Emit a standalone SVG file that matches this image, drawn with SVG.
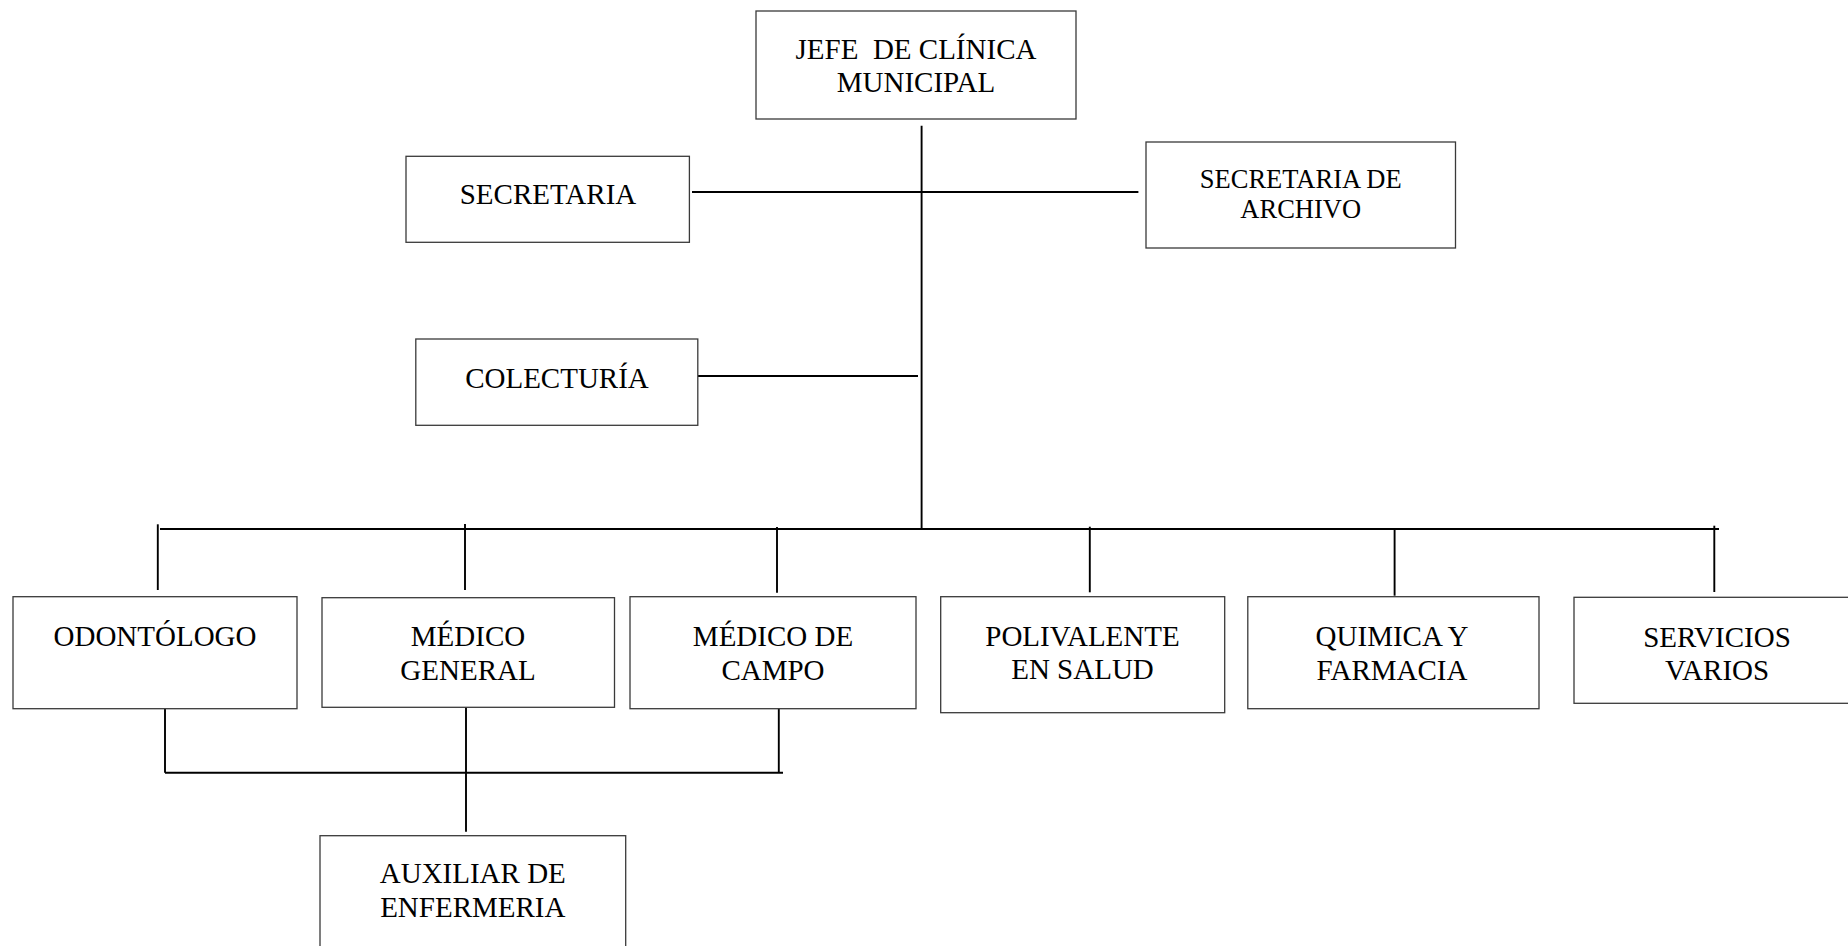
<svg xmlns="http://www.w3.org/2000/svg" width="1848" height="946" viewBox="0 0 1848 946">
<style>
.box{fill:#ffffff;stroke:#3a3a3a;stroke-width:1.3}
.t{font-family:"Liberation Serif","Times New Roman",serif;font-size:29px;fill:#000;text-anchor:middle}
.s{font-size:26.5px}
.c{stroke:#000;stroke-width:1.9;fill:none}
</style>
<rect width="1848" height="946" fill="#ffffff"/>
<g id="connectors">
<line class="c" x1="921.6" y1="125.7" x2="921.6" y2="529"/>
<line class="c" x1="692" y1="192" x2="1138.4" y2="192"/>
<line class="c" x1="698" y1="376" x2="918" y2="376"/>
<line class="c" x1="160" y1="529" x2="1719" y2="529"/>
<line class="c" x1="157.8" y1="524.3" x2="157.8" y2="590"/>
<line class="c" x1="465" y1="524" x2="465" y2="590"/>
<line class="c" x1="777" y1="527" x2="777" y2="592.7"/>
<line class="c" x1="1089.8" y1="526.7" x2="1089.8" y2="592.3"/>
<line class="c" x1="1394.6" y1="529" x2="1394.6" y2="595.7"/>
<line class="c" x1="1714.3" y1="525.7" x2="1714.3" y2="592"/>
<line class="c" x1="165" y1="708.7" x2="165" y2="772.7"/>
<line class="c" x1="778.8" y1="707" x2="778.8" y2="772.7"/>
<line class="c" x1="165" y1="772.7" x2="783" y2="772.7"/>
<line class="c" x1="466" y1="706.7" x2="466" y2="831.7"/>
</g>
<g id="jefe">
<rect class="box" x="756" y="11" width="320" height="108"/>
<text class="t" x="916" y="58.7" xml:space="preserve">JEFE  DE CLÍNICA</text>
<text class="t" x="916" y="91.7">MUNICIPAL</text>
</g>
<g id="secretaria">
<rect class="box" x="406" y="156.3" width="283.4" height="86"/>
<text class="t" x="548" y="204">SECRETARIA</text>
</g>
<g id="secretaria-archivo">
<rect class="box" x="1146" y="142" width="309.5" height="106"/>
<text class="t s" x="1300.7" y="187.7">SECRETARIA DE</text>
<text class="t s" x="1300.7" y="218.3">ARCHIVO</text>
</g>
<g id="colecturia">
<rect class="box" x="415.8" y="339" width="282" height="86.3"/>
<text class="t" x="557" y="387.7">COLECTURÍA</text>
</g>
<g id="odontologo">
<rect class="box" x="13" y="596.7" width="284" height="112"/>
<text class="t" x="155" y="646">ODONTÓLOGO</text>
</g>
<g id="medico-general">
<rect class="box" x="322" y="597.7" width="292.5" height="109.6"/>
<text class="t" x="468" y="646">MÉDICO</text>
<text class="t" x="468" y="680">GENERAL</text>
</g>
<g id="medico-campo">
<rect class="box" x="630" y="596.7" width="286" height="112"/>
<text class="t" x="773" y="646">MÉDICO DE</text>
<text class="t" x="773" y="680">CAMPO</text>
</g>
<g id="polivalente">
<rect class="box" x="940.7" y="596.7" width="284" height="116"/>
<text class="t" x="1082.5" y="645.5">POLIVALENTE</text>
<text class="t" x="1082.5" y="679">EN SALUD</text>
</g>
<g id="quimica">
<rect class="box" x="1247.8" y="596.7" width="291.2" height="112"/>
<text class="t" x="1392" y="645.5">QUIMICA Y</text>
<text class="t" x="1392" y="679.5">FARMACIA</text>
</g>
<g id="servicios">
<rect class="box" x="1574" y="597.3" width="288" height="106"/>
<text class="t" x="1717" y="646.5">SERVICIOS</text>
<text class="t" x="1717" y="680">VARIOS</text>
</g>
<g id="auxiliar">
<rect class="box" x="320" y="835.7" width="305.7" height="120"/>
<text class="t" x="472.8" y="883.3">AUXILIAR DE</text>
<text class="t" x="472.8" y="917.3">ENFERMERIA</text>
</g>
</svg>
